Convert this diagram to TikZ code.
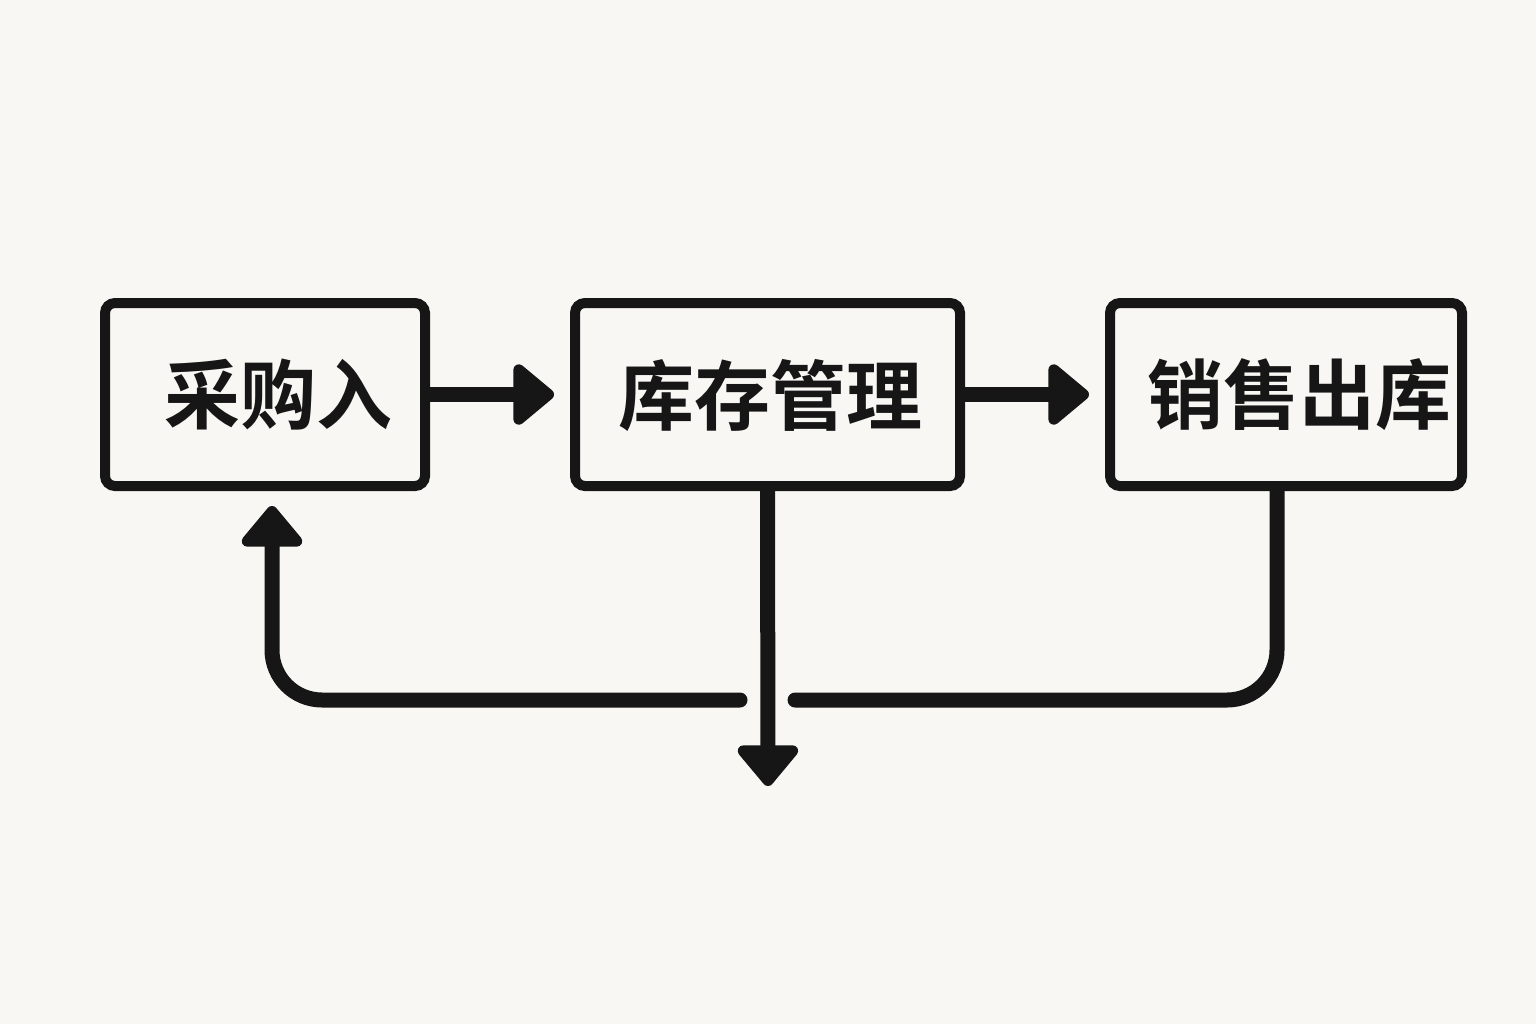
\documentclass[tikz,border=0pt]{standalone}
\usepackage{fontspec}
\newfontfamily\cjk{Noto Sans CJK SC Bold}
\usetikzlibrary{arrows.meta}
\definecolor{bg}{HTML}{F8F7F3}
\definecolor{ink}{HTML}{161616}
\begin{document}
\begin{tikzpicture}[x=0.5pt,y=-0.5pt,
  box/.style={draw=ink,line width=5pt,rounded corners=5pt,fill=none,inner sep=0pt},
  lbl/.style={font=\cjk\fontsize{38pt}{44pt}\selectfont,text=ink,inner sep=0pt},
  conn/.style={draw=ink,line width=7.5pt,line cap=round,line join=round},
  tip/.style={-{Triangle[length=22pt,width=35pt,round,fill=ink]}}]
\fill[bg] (0,0) rectangle (1536,1024);
\useasboundingbox (0,0) rectangle (1536,1024);
\node[box,minimum width=160pt,minimum height=91.5pt] (b1) at (265,394.5) {};
\node[box,minimum width=192.5pt,minimum height=91.5pt] (b2) at (767.5,394.5) {};
\node[box,minimum width=176pt,minimum height=91.5pt] (b3) at (1286,394.5) {};
\node[lbl] (t1) at (278,395) {采购入};
\node[lbl] (t2) at (770,395) {库存管理};
\node[lbl] (t3) at (1299,395) {销售出库};
\coordinate (d) at (768,786);
\coordinate (r1) at (1277,700);
\coordinate (g1) at (795,700);
\coordinate (g2) at (740,700);
\coordinate (l1) at (272,700);
\coordinate (u) at (272,506);
\draw[conn,tip,line cap=butt] (b1.east) -- ([xshift=-8pt]b2.west);
\draw[conn,tip,line cap=butt] (b2.east) -- ([xshift=-8pt]b3.west);
\draw[conn,tip,line cap=butt] (b2.south) -- (d);
\draw[conn,rounded corners=25pt] (b3.south -| r1) -- (r1) -- (g1);
\draw[conn,tip,rounded corners=25pt] (g2) -- (l1) -- (u);
\end{tikzpicture}
\end{document}
